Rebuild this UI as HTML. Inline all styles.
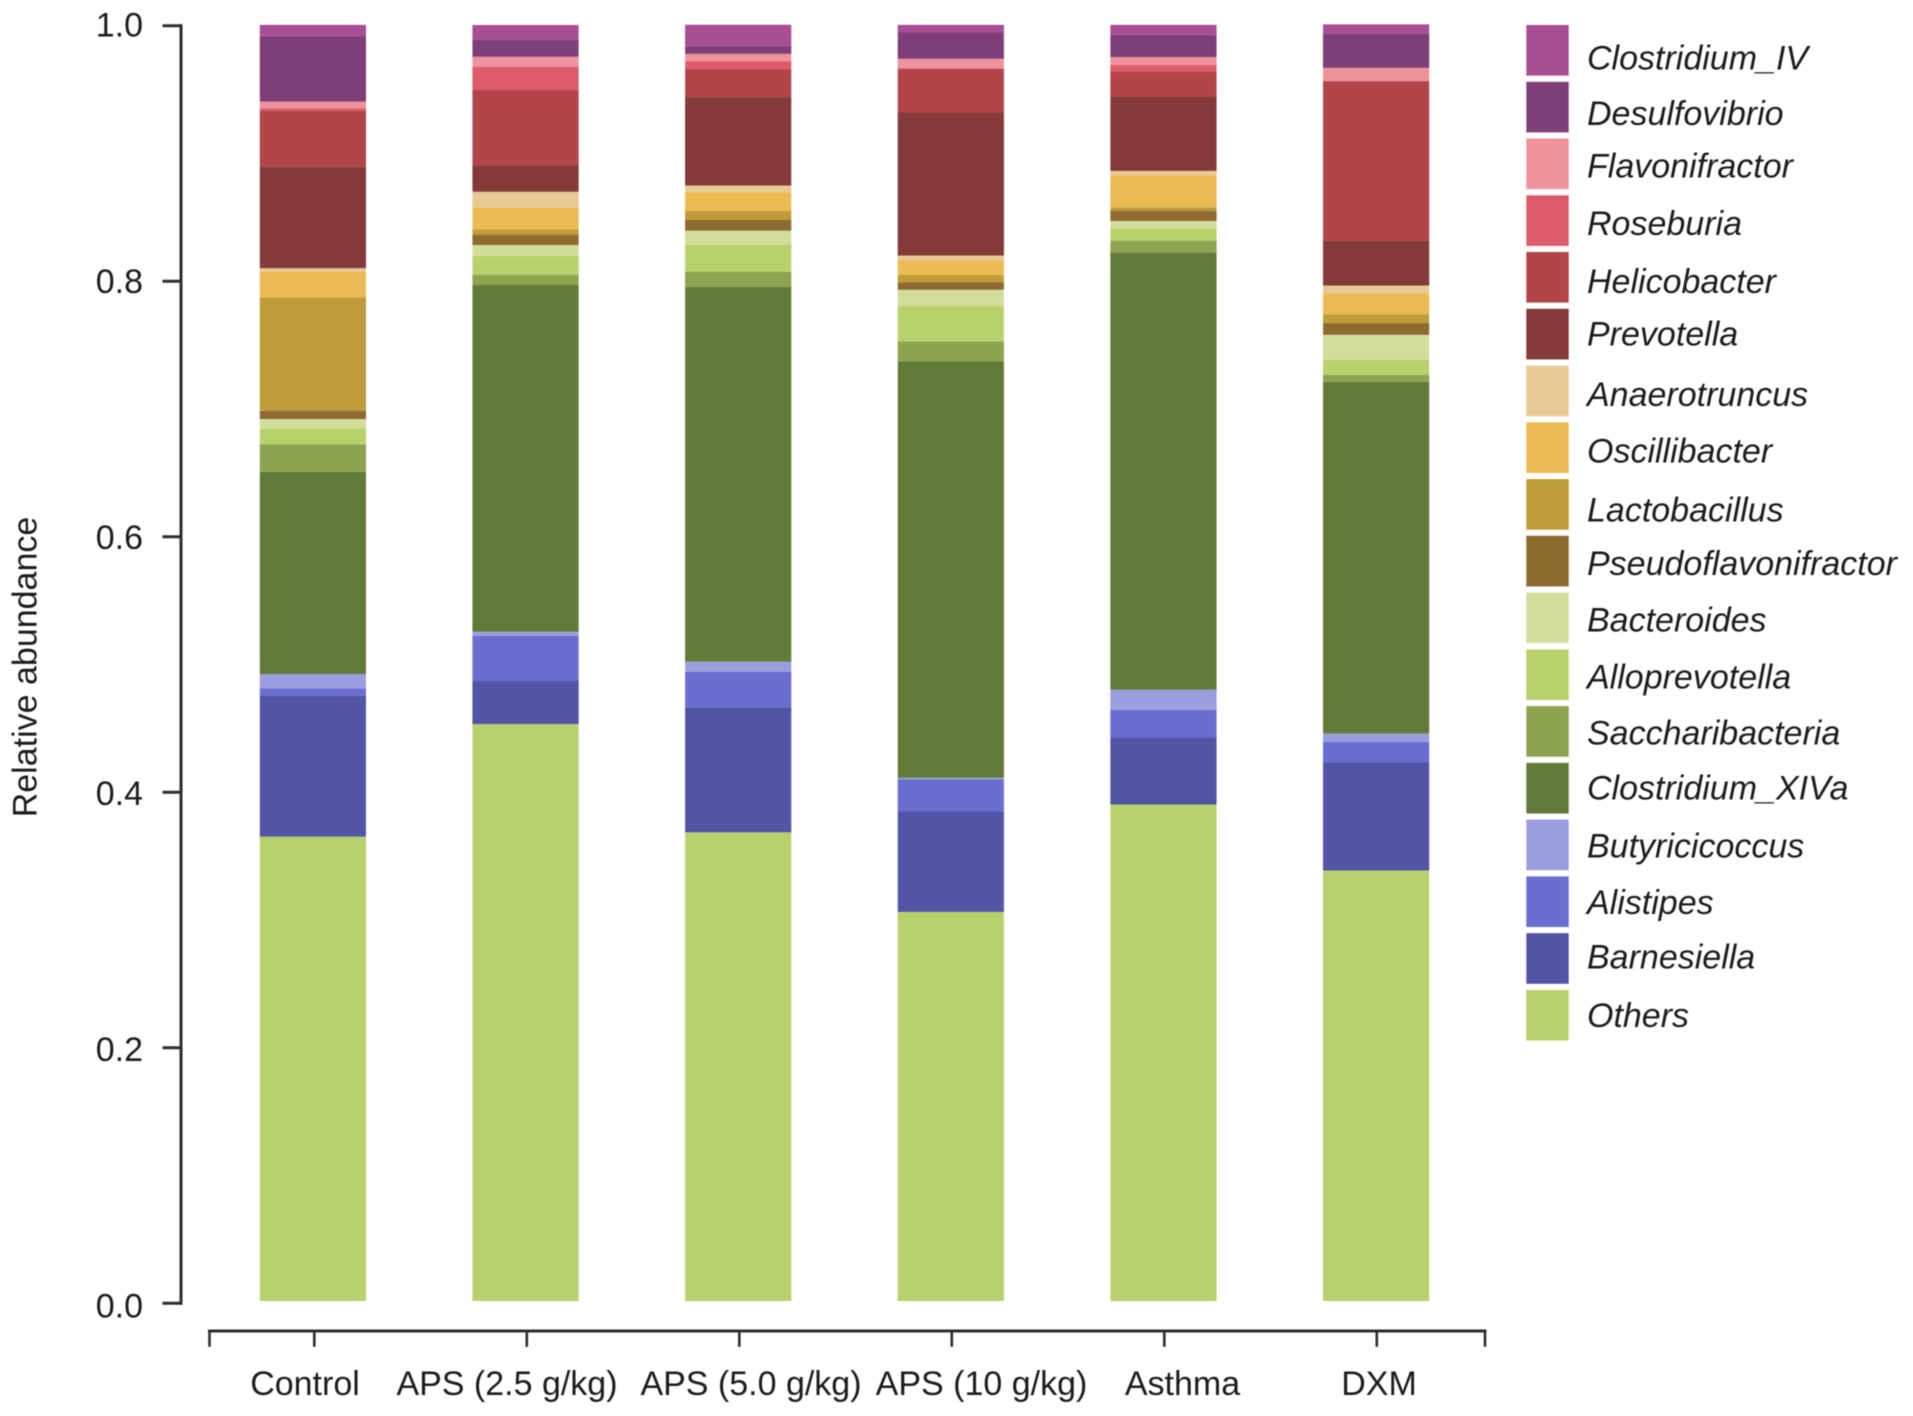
<!DOCTYPE html>
<html lang="en">
<head>
<meta charset="utf-8">
<title>Relative abundance stacked bar chart</title>
<style>
html,body{margin:0;padding:0;background:#fff;width:1913px;height:1416px;overflow:hidden}
svg{display:block;filter:blur(0.6px)}
text{font-family:"Liberation Sans",Arial,sans-serif;font-size:34px;fill:#1c1c1c}
.lg{font-style:italic}
</style>
</head>
<body>
<svg id="chart" xmlns="http://www.w3.org/2000/svg" width="1913" height="1416" viewBox="0 0 1913 1416">
  <rect width="1913" height="1416" fill="#fff"/>
  <g id="bars"></g>
  <g id="axes"></g>
  <text transform="translate(36.5,667) rotate(-90)" text-anchor="middle">Relative abundance</text>
  <g text-anchor="middle">
    <text x="305" y="1395">Control</text>
    <text x="507" y="1395">APS (2.5 g/kg)</text>
    <text x="751" y="1395">APS (5.0 g/kg)</text>
    <text x="981.5" y="1395">APS (10 g/kg)</text>
    <text x="1182.5" y="1395">Asthma</text>
    <text x="1379" y="1395">DXM</text>
  </g>
  <g>
    <rect x="1526.3" y="25" width="42.4" height="50.6" fill="#A84E95"/>
    <text class="lg" x="1587" y="69.6">Clostridium_IV</text>
    <rect x="1526.3" y="81.8" width="42.4" height="50.6" fill="#7E3F78"/>
    <text class="lg" x="1587" y="125">Desulfovibrio</text>
    <rect x="1526.3" y="138.5" width="42.4" height="50.6" fill="#EE929C"/>
    <text class="lg" x="1587" y="177.5">Flavonifractor</text>
    <rect x="1526.3" y="195.3" width="42.4" height="50.6" fill="#DD5B6B"/>
    <text class="lg" x="1587" y="235">Roseburia</text>
    <rect x="1526.3" y="252" width="42.4" height="50.6" fill="#B24549"/>
    <text class="lg" x="1587" y="292.9">Helicobacter</text>
    <rect x="1526.3" y="308.8" width="42.4" height="50.6" fill="#833A38"/>
    <text class="lg" x="1587" y="345.7">Prevotella</text>
    <rect x="1526.3" y="365.6" width="42.4" height="50.6" fill="#E8CA96"/>
    <text class="lg" x="1587" y="406">Anaerotruncus</text>
    <rect x="1526.3" y="422.3" width="42.4" height="50.6" fill="#EBBA52"/>
    <text class="lg" x="1587" y="462.5">Oscillibacter</text>
    <rect x="1526.3" y="479.1" width="42.4" height="50.6" fill="#BE9C3A"/>
    <text class="lg" x="1587" y="521.4">Lactobacillus</text>
    <rect x="1526.3" y="535.8" width="42.4" height="50.6" fill="#8C6A30"/>
    <text class="lg" x="1587" y="575">Pseudoflavonifractor</text>
    <rect x="1526.3" y="592.6" width="42.4" height="50.6" fill="#D2DD9C"/>
    <text class="lg" x="1587" y="631.7">Bacteroides</text>
    <rect x="1526.3" y="649.4" width="42.4" height="50.6" fill="#B9D16A"/>
    <text class="lg" x="1587" y="688.6">Alloprevotella</text>
    <rect x="1526.3" y="706.1" width="42.4" height="50.6" fill="#8DA350"/>
    <text class="lg" x="1587" y="744.5">Saccharibacteria</text>
    <rect x="1526.3" y="762.9" width="42.4" height="50.6" fill="#627A38"/>
    <text class="lg" x="1587" y="799.3">Clostridium_XIVa</text>
    <rect x="1526.3" y="819.6" width="42.4" height="50.6" fill="#9B9DDE"/>
    <text class="lg" x="1587" y="857.5">Butyricicoccus</text>
    <rect x="1526.3" y="876.4" width="42.4" height="50.6" fill="#6A6ECF"/>
    <text class="lg" x="1587" y="914">Alistipes</text>
    <rect x="1526.3" y="933.2" width="42.4" height="50.6" fill="#5254A5"/>
    <text class="lg" x="1587" y="968.3">Barnesiella</text>
    <rect x="1526.3" y="989.9" width="42.4" height="50.6" fill="#B9D16C"/>
    <text class="lg" x="1587" y="1027">Others</text>
  </g>
</svg>
<script>
// Categories and tick labels
const categories = ["Control", "APS (2.5 g/kg)", "APS (5.0 g/kg)", "APS (10 g/kg)", "Asthma", "DXM"];
const yTickValues = [0, 0.2, 0.4, 0.6, 0.8, 1.0];
const yTickLabels = ["0.0", "0.2", "0.4", "0.6", "0.8", "1.0"];

// Series values, one per category
const others          = [0.3639, 0.4522, 0.3673, 0.3049, 0.3891, 0.3374];
const barnesiella     = [0.1103, 0.0337, 0.0980, 0.0787, 0.0525, 0.0846];
const alistipes       = [0.0060, 0.0353, 0.0279, 0.0252, 0.0217, 0.0161];
const butyricicoccus  = [0.0112, 0.0034, 0.0078, 0.0012, 0.0158, 0.0067];
const clostridiumXIVa = [0.1585, 0.2717, 0.2939, 0.3263, 0.3425, 0.2755];
const saccharibacteria= [0.0215, 0.0078, 0.0118, 0.0158, 0.0094, 0.0055];
const alloprevotella  = [0.0125, 0.0149, 0.0209, 0.0273, 0.0097, 0.0118];
const bacteroides     = [0.0073, 0.0086, 0.0112, 0.0131, 0.0057, 0.0196];
const pseudoflavo     = [0.0065, 0.0078, 0.0084, 0.0057, 0.0081, 0.0092];
const lactobacillus   = [0.0889, 0.0045, 0.0071, 0.0060, 0.0027, 0.0070];
const oscillibacter   = [0.0201, 0.0172, 0.0147, 0.0112, 0.0248, 0.0162];
const anaerotruncus   = [0.0027, 0.0122, 0.0052, 0.0039, 0.0037, 0.0062];
const prevotella      = [0.0796, 0.0209, 0.0693, 0.1121, 0.0582, 0.0350];
const helicobacter    = [0.0439, 0.0588, 0.0222, 0.0342, 0.0196, 0.1251];
const roseburia       = [0.0019, 0.0183, 0.0057, 0.0006, 0.0053, 0.0005];
const flavonifractor  = [0.0052, 0.0078, 0.0060, 0.0073, 0.0060, 0.0100];
const desulfovibrio   = [0.0515, 0.0131, 0.0063, 0.0206, 0.0175, 0.0266];
const clostridiumIV   = [0.0086, 0.0118, 0.0165, 0.0060, 0.0078, 0.0075];

// Stack order, bottom to top
const seriesNames = ["others", "barnesiella", "alistipes", "butyricicoccus", "clostridium-xiva", "saccharibacteria", "alloprevotella", "bacteroides", "pseudoflavonifractor", "lactobacillus", "oscillibacter", "anaerotruncus", "prevotella", "helicobacter", "roseburia", "flavonifractor", "desulfovibrio", "clostridium-iv"];
const seriesValues = [others, barnesiella, alistipes, butyricicoccus, clostridiumXIVa, saccharibacteria, alloprevotella, bacteroides, pseudoflavo, lactobacillus, oscillibacter, anaerotruncus, prevotella, helicobacter, roseburia, flavonifractor, desulfovibrio, clostridiumIV];
const seriesColors = ["#B9D16C", "#5254A5", "#6A6ECF", "#9B9DDE", "#627A38", "#8DA350", "#B9D16A", "#D2DD9C", "#8C6A30", "#BE9C3A", "#EBBA52", "#E8CA96", "#833A38", "#B24549", "#DD5B6B", "#EE929C", "#7E3F78", "#A84E95"];

// Axis functions
function yBar(v) { return 1301 - 1276 * v; }
function yAxis(v) { return 1303.3 - 1277.6 * v; }
function yLabel(v) { return 1317.3 - 1280.6 * v; }
function xBar(i) { return 312.9 + 212.64 * i; }
function xTick(i) { return 314.3 + 212.5 * i; }
const barWidth = 106.2;
const NS = "http://www.w3.org/2000/svg";
const axisColor = "#2e2e2e";

const barsGroup = document.getElementById("bars");
categories.forEach(function (cat, i) {
  let cum = 0;
  seriesValues.forEach(function (vals, s) {
    const top = cum + vals[i];
    const r = document.createElementNS(NS, "rect");
    r.setAttribute("x", xBar(i) - barWidth / 2);
    r.setAttribute("y", yBar(top));
    r.setAttribute("width", barWidth);
    r.setAttribute("height", yBar(cum) - yBar(top));
    r.setAttribute("fill", seriesColors[s]);
    
    
    r.setAttribute("data-series", seriesNames[s]);
    r.setAttribute("data-category", cat);
    barsGroup.appendChild(r);
    cum = top;
  });
});

const axesGroup = document.getElementById("axes");
function addLine(x1, y1, x2, y2, width) {
  const l = document.createElementNS(NS, "line");
  l.setAttribute("x1", x1);
  l.setAttribute("y1", y1);
  l.setAttribute("x2", x2);
  l.setAttribute("y2", y2);
  l.setAttribute("stroke", axisColor);
  l.setAttribute("stroke-width", width);
  l.setAttribute("stroke-linecap", "square");
  axesGroup.appendChild(l);
  return l;
}

// Y axis
const yLine = addLine(181, yAxis(1), 181, yAxis(0), 3);


yTickValues.forEach(function (v, k) {
  const t = addLine(164, yAxis(v), 181, yAxis(v), 3);
  
  
  const txt = document.createElementNS(NS, "text");
  txt.setAttribute("x", 143);
  txt.setAttribute("y", yLabel(v));
  txt.setAttribute("text-anchor", "end");
  txt.textContent = yTickLabels[k];
  
  
  axesGroup.appendChild(txt);
});

// X axis
const xLine = addLine(209.5, 1331, 1485, 1331, 3);


const xEndLeft = addLine(209.5, 1331, 209.5, 1345.5, 2.6);


const xEndRight = addLine(1485, 1331, 1485, 1345.5, 2.6);


categories.forEach(function (cat, i) {
  const t = addLine(xTick(i), 1331, xTick(i), 1345.5, 2.6);
  
  
});
</script>
</body>
</html>
